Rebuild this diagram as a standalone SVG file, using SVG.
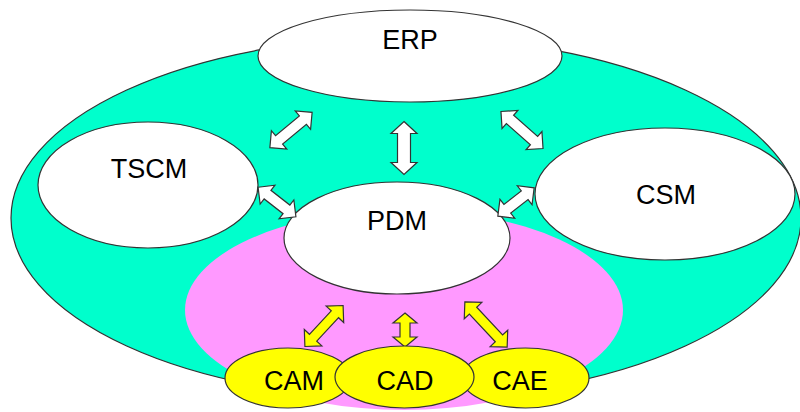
<svg xmlns="http://www.w3.org/2000/svg" width="800" height="412" viewBox="0 0 800 412">
<style>
.bg{fill:#00FFCC;stroke:#333;stroke-width:1.2}
.pink{fill:#FF99FF;stroke:none}
.wn{fill:#FFFFFF;stroke:#333;stroke-width:1.2}
.yn{fill:#FFFF00;stroke:#333;stroke-width:1.2}
.lbl{font-family:"Liberation Sans",Arial,sans-serif;font-size:27px;fill:#000;text-anchor:middle}
.wa{fill:#FFFFFF;stroke:#333;stroke-width:1.2;stroke-linejoin:miter}
.ya{fill:#FFFF00;stroke:#333;stroke-width:1.2;stroke-linejoin:miter}
</style>
<rect width="800" height="412" fill="#FFFFFF"/>
<g id="outer"><ellipse class="bg" cx="406" cy="218" rx="395" ry="181"/></g>
<g id="inner"><ellipse class="pink" cx="404" cy="310" rx="219" ry="100"/></g>
<g id="ERP"><ellipse class="wn" cx="410" cy="56" rx="152" ry="46"/><text class="lbl" x="410" y="49">ERP</text></g>
<g id="TSCM"><ellipse class="wn" cx="148" cy="185" rx="110" ry="63"/><text class="lbl" x="149" y="178">TSCM</text></g>
<g id="CSM"><ellipse class="wn" cx="665" cy="194" rx="130" ry="66"/><text class="lbl" x="666" y="204">CSM</text></g>
<g id="PDM"><ellipse class="wn" cx="397" cy="238" rx="113" ry="56"/><text class="lbl" x="397" y="230">PDM</text></g>
<g id="connectors">
<path class="wa" transform="translate(291,130) rotate(-39.8)" d="M-27.5 0 L-15.5 -12 L-15.5 -5.5 L15.5 -5.5 L15.5 -12 L27.5 0 L15.5 12 L15.5 5.5 L-15.5 5.5 L-15.5 12 Z"/>
<path class="wa" transform="translate(404,148) rotate(90)" d="M-26.5 0 L-14.5 -13 L-14.5 -6.5 L14.5 -6.5 L14.5 -13 L26.5 0 L14.5 13 L14.5 6.5 L-14.5 6.5 L-14.5 13 Z"/>
<path class="wa" transform="translate(522,130) rotate(41.3)" d="M-28 0 L-16 -12 L-16 -5.5 L16 -5.5 L16 -12 L28 0 L16 12 L16 5.5 L-16 5.5 L-16 12 Z"/>
<path class="wa" transform="translate(277,202) rotate(38)" d="M-24 0 L-12 -12 L-12 -5.5 L12 -5.5 L12 -12 L24 0 L12 12 L12 5.5 L-12 5.5 L-12 12 Z"/>
<path class="wa" transform="translate(516,202) rotate(-37.9)" d="M-23 0 L-11 -12 L-11 -5.5 L11 -5.5 L11 -12 L23 0 L11 12 L11 5.5 L-11 5.5 L-11 12 Z"/>
<path class="ya" transform="translate(324,326) rotate(-47)" d="M-28 0 L-16 -12 L-16 -5 L16 -5 L16 -12 L28 0 L16 12 L16 5 L-16 5 L-16 12 Z"/>
<path class="ya" transform="translate(405,330) rotate(90)" d="M-17 0 L-7 -12 L-7 -5 L7 -5 L7 -12 L17 0 L7 12 L7 5 L-7 5 L-7 12 Z"/>
<path class="ya" transform="translate(486,324.5) rotate(47)" d="M-31 0 L-19 -12 L-19 -5 L19 -5 L19 -12 L31 0 L19 12 L19 5 L-19 5 L-19 12 Z"/>
</g>
<g id="CAM"><ellipse class="yn" cx="288" cy="378" rx="63" ry="30"/><text class="lbl" x="294" y="390">CAM</text></g>
<g id="CAE"><ellipse class="yn" cx="525.5" cy="378" rx="63.5" ry="30"/><text class="lbl" x="520" y="390">CAE</text></g>
<g id="CAD"><ellipse class="yn" cx="404.5" cy="377" rx="69.5" ry="31"/><text class="lbl" x="405" y="390">CAD</text></g>
</svg>
